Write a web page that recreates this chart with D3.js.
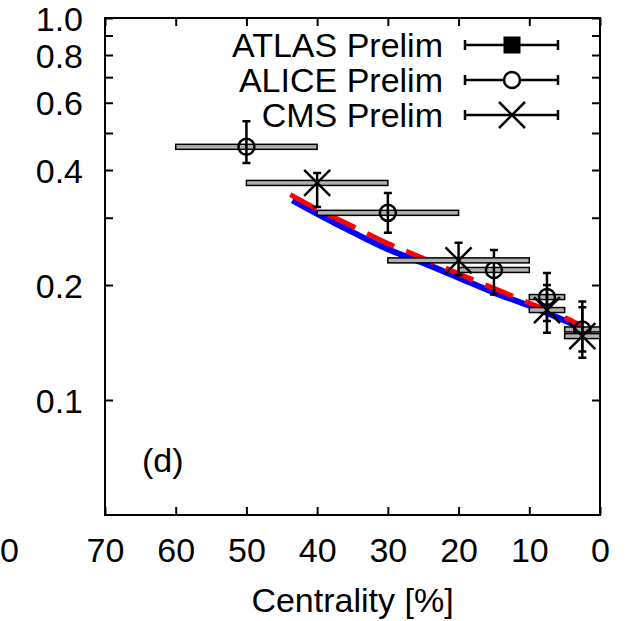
<!DOCTYPE html>
<html>
<head>
<meta charset="utf-8">
<script src="https://cdn.jsdelivr.net/npm/d3@7"></script>
<style>
  body { margin: 0; background: #fff; }
  text { font-family: "Liberation Sans", Arial, Helvetica, sans-serif; fill: #000; }
</style>
</head>
<body>
<div id="chart"></div>
<script>
// ALICE Prelim points (centrality, value, stat error, bin width)
var aliceCent  = [50, 30, 15, 7.5, 2.5]
var aliceVal   = [0.460, 0.309, 0.219, 0.186, 0.153]
var aliceErrLo = [0.417, 0.274, 0.189, 0.161, 0.134]
var aliceErrHi = [0.537, 0.348, 0.247, 0.215, 0.175]
var aliceBinLo = [40, 20, 10, 5, 0]
var aliceBinHi = [60, 40, 20, 10, 5]

// CMS Prelim points
var cmsCent  = [40, 20, 7.5, 2.5]
var cmsVal   = [0.370, 0.232, 0.172, 0.147]
var cmsErrLo = [0.320, 0.2125, 0.150, 0.129]
var cmsErrHi = [0.393, 0.258, 0.200, 0.181]
var cmsBinLo = [30, 10, 5, 0]
var cmsBinHi = [50, 30, 10, 5]

// model curves
var blueCent = [43.5, 40, 35, 30, 25, 20, 15, 10, 5, 2.5]
var blueVal  = [0.333, 0.307, 0.275, 0.248, 0.2285, 0.209, 0.191, 0.1765, 0.1614, 0.154]
var redCent  = [43.8, 40, 35, 30, 25, 20, 15, 10, 5, 2.5]
var redVal   = [0.345, 0.316, 0.285, 0.257, 0.235, 0.214, 0.196, 0.1795, 0.1645, 0.156]

// axis ticks
var xTicks = [70, 60, 50, 40, 30, 20, 10, 0]
var yTicks = [0.1, 0.2, 0.3, 0.4, 0.5, 0.6, 0.7, 0.8, 0.9, 1.0]
var yLabels = [0.1, 0.2, 0.4, 0.6, 0.8, 1.0]

var legendNames = ['ATLAS Prelim', 'ALICE Prelim', 'CMS Prelim']

var W = 629, H = 621
var margin = {top: 18, right: 29, bottom: 106, left: 105}
var width = W - margin.left - margin.right,
    height = H - margin.top - margin.bottom

var svg = d3.select('#chart').append('svg')
  .attr('width', W).attr('height', H)

var g = svg.append('g')
  .attr('transform', 'translate(' + margin.left + ',' + margin.top + ')')

var x = d3.scaleLinear().domain([70, 0]).range([0, width])
var y = d3.scaleLog().domain([0.05, 1.0]).range([height, 0])

var fs = 34
var tickLen = 8

// bottom and top axes (ticks inward)
g.append('g')
  .attr('transform', 'translate(0,' + height + ')')
  .call(d3.axisBottom(x).tickValues(xTicks).tickSizeInner(-tickLen).tickSizeOuter(0).tickPadding(23)
    .tickFormat(d3.format('d')))
  .call(a => a.select('.domain').remove())
  .call(a => a.selectAll('line').attr('stroke', '#000').attr('stroke-width', 2))
  .call(a => a.selectAll('text').attr('font-size', fs).attr('dy', '0.71em'))

g.append('g')
  .call(d3.axisTop(x).tickValues(xTicks).tickSizeInner(-tickLen).tickSizeOuter(0).tickFormat(''))
  .call(a => a.select('.domain').remove())
  .call(a => a.selectAll('line').attr('stroke', '#000').attr('stroke-width', 2))

// left and right axes
g.append('g')
  .call(d3.axisLeft(y).tickValues(yTicks).tickSizeInner(-tickLen).tickSizeOuter(0).tickPadding(22)
    .tickFormat(d => yLabels.indexOf(d) >= 0 ? d3.format('.1f')(d) : ''))
  .call(a => a.select('.domain').remove())
  .call(a => a.selectAll('line').attr('stroke', '#000').attr('stroke-width', 2))
  .call(a => a.selectAll('text').attr('font-size', fs).attr('dy', '0.36em'))

g.append('g')
  .attr('transform', 'translate(' + width + ',0)')
  .call(d3.axisRight(y).tickValues(yTicks).tickSizeInner(-tickLen).tickSizeOuter(0).tickFormat(''))
  .call(a => a.select('.domain').remove())
  .call(a => a.selectAll('line').attr('stroke', '#000').attr('stroke-width', 2))

// frame
g.append('rect')
  .attr('width', width).attr('height', height)
  .attr('fill', 'none').attr('stroke', '#000').attr('stroke-width', 2)

// stray label from the neighbouring panel
svg.append('text')
  .attr('x', 0).attr('y', margin.top + height + 23)
  .attr('dy', '0.71em')
  .attr('font-size', fs)
  .text('0')

// axis title
svg.append('text')
  .attr('x', margin.left + width / 2).attr('y', 612)
  .attr('text-anchor', 'middle')
  .attr('font-size', fs)
  .text('Centrality [%]')

// panel label
g.append('text')
  .attr('x', 37).attr('y', 454)
  .attr('font-size', fs)
  .text('(d)')

// model curves
var line = d3.line()
  .x(d => x(d[0])).y(d => y(d[1]))
  .curve(d3.curveMonotoneX)

g.append('path')
  .datum(blueCent.map((c, i) => [c, blueVal[i]]))
  .attr('d', line)
  .attr('fill', 'none').attr('stroke', '#0000ff').attr('stroke-width', 6)

g.append('path')
  .datum(redCent.map((c, i) => [c, redVal[i]]))
  .attr('d', line)
  .attr('fill', 'none').attr('stroke', '#ff0000').attr('stroke-width', 5)
  .attr('stroke-dasharray', '30,13')

// data points: boxes for the bin width, then error bars and markers
function drawSet(cent, val, lo, hi, bLo, bHi, marker) {
  var data = cent.map((c, i) => ({c: c, v: val[i], lo: lo[i], hi: hi[i], b0: bLo[i], b1: bHi[i]}))
  var s = g.append('g')

  s.selectAll('rect.bin').data(data).enter().append('rect')
    .attr('class', 'bin')
    .attr('x', d => x(d.b1)).attr('width', d => x(d.b0) - x(d.b1))
    .attr('y', d => y(d.v) - 2.5).attr('height', 5)
    .attr('fill', '#b0b0b0').attr('stroke', '#000').attr('stroke-width', 1.5)

  s.selectAll('line.err').data(data).enter().append('line')
    .attr('x1', d => x(d.c)).attr('x2', d => x(d.c))
    .attr('y1', d => y(d.lo)).attr('y2', d => y(d.hi))
    .attr('stroke', '#000').attr('stroke-width', 2.5)

  s.selectAll('path.cap').data(data).enter().append('path')
    .attr('d', d => 'M' + (x(d.c) - 4) + ',' + y(d.lo) + 'h8M' + (x(d.c) - 4) + ',' + y(d.hi) + 'h8')
    .attr('stroke', '#000').attr('stroke-width', 2.5)

  s.selectAll('g.mk').data(data).enter().append('g')
    .attr('transform', d => 'translate(' + x(d.c) + ',' + y(d.v) + ')')
    .each(function() { marker(d3.select(this)) })
}

function circleMarker(sel) {
  sel.append('circle').attr('r', 8)
    .attr('fill', 'none').attr('stroke', '#000').attr('stroke-width', 2.5)
}
function crossMarker(sel) {
  sel.append('path').attr('d', 'M-13,-13L13,13M-13,13L13,-13')
    .attr('stroke', '#000').attr('stroke-width', 2.5)
}
function squareMarker(sel) {
  sel.append('rect').attr('x', -8.5).attr('y', -8.5).attr('width', 17).attr('height', 17)
    .attr('fill', '#000')
}

drawSet(aliceCent, aliceVal, aliceErrLo, aliceErrHi, aliceBinLo, aliceBinHi, circleMarker)
drawSet(cmsCent, cmsVal, cmsErrLo, cmsErrHi, cmsBinLo, cmsBinHi, crossMarker)

// legend
var markers = [squareMarker, circleMarker, crossMarker]
var legend = svg.append('g')
legendNames.forEach(function(name, i) {
  var cy = 45 + i * 35
  var row = legend.append('g')
  row.append('text')
    .attr('x', 443).attr('y', cy + 12)
    .attr('text-anchor', 'end')
    .attr('font-size', fs)
    .text(name)
  row.append('path')
    .attr('d', 'M465,' + cy + 'H558M465,' + (cy - 5) + 'v10M558,' + (cy - 5) + 'v10')
    .attr('stroke', '#000').attr('stroke-width', 2.5).attr('fill', 'none')
  var m = row.append('g').attr('transform', 'translate(512,' + cy + ')')
  markers[i](m)
  if (i == 1) m.select('circle').attr('fill', '#fff')
})
</script>
</body>
</html>
